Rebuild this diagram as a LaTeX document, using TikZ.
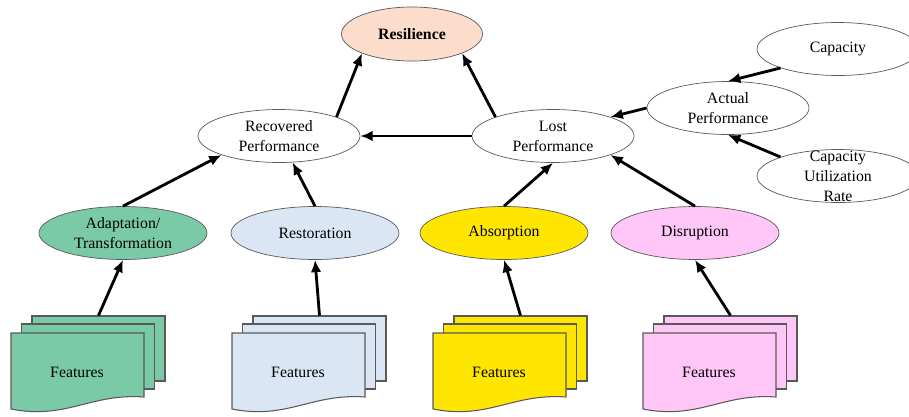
\documentclass[tikz,border=0pt]{standalone}
\usepackage{fontspec}
\setmainfont{Liberation Serif}
\usetikzlibrary{shapes.geometric,arrows.meta}

\definecolor{respeach}{RGB}{252,221,204}
\definecolor{adaptgreen}{RGB}{122,201,167}
\definecolor{restblue}{RGB}{218,230,243}
\definecolor{absyellow}{RGB}{255,230,0}
\definecolor{disrpink}{RGB}{255,199,247}

\begin{document}
\begin{tikzpicture}
    [
        x=0.02cm, y=-0.02cm,
        font=\fontsize{9}{11.4}\selectfont,
        oval/.style={ellipse, draw=black!65, inner sep=0pt, align=center, minimum width=3.24cm, minimum height=1.06cm,},
        low/.style={oval, minimum width=3.36cm,},
        sheet/.style={rectangle, draw=black!65, line width=0.6pt, inner sep=0pt, minimum width=2.66cm, minimum height=1.3cm,},
        page/.style={draw=black!65, line width=0.6pt,},
        link/.style={-{Latex[length=7pt,width=6pt]}, line width=1.6pt,},
    ]
    \useasboundingbox (0,0) rectangle (909,416);

    % top
    \node (res)  at (412,34)  [oval, fill=respeach, minimum width=2.82cm, minimum height=1.08cm] {\textbf{Resilience}};
    \node (rec)  at (279,136) [oval] {Recovered\\Performance};
    \node (lost) at (553,136) [oval] {Lost\\Performance};
    \node (act)  at (728,108) [oval] {Actual\\Performance};
    \node (cap)  at (838,49)  [oval] {Capacity};
    \node (cur)  at (838,176) [oval, label={[align=center]center:{Capacity\\Utilization\\Rate}}] {};

    % middle
    \node (adapt) at (123,233) [low, fill=adaptgreen] {Adaptation/\\Transformation};
    \node (rest)  at (315,233) [low, fill=restblue]   {Restoration};
    \node (abs)   at (504,233) [low, fill=absyellow]  {Absorption};
    \node (disr)  at (695,233) [low, fill=disrpink]   {Disruption};

    % f1
    \node (f1c) at (98.5,348.5) [sheet, fill=adaptgreen] {};
    \node (f1b) at (88,356.5)   [sheet, fill=adaptgreen] {};
    \draw [page, fill=adaptgreen] (11,333) -- (144,333) -- (144,397) .. controls (91,393) and (66,420) .. (11,409) -- cycle;
    \node (f1) at (77,372) {Features};

    % f2
    \node (f2c) at (319.5,348.5) [sheet, fill=restblue] {};
    \node (f2b) at (309,356.5)   [sheet, fill=restblue] {};
    \draw [page, fill=restblue] (232,333) -- (365,333) -- (365,397) .. controls (312,393) and (287,420) .. (232,409) -- cycle;
    \node (f2) at (298,372) {Features};

    % f3
    \node (f3c) at (520.5,348.5) [sheet, fill=absyellow] {};
    \node (f3b) at (510,356.5)   [sheet, fill=absyellow] {};
    \draw [page, fill=absyellow] (433,333) -- (566,333) -- (566,397) .. controls (513,393) and (488,420) .. (433,409) -- cycle;
    \node (f3) at (499,372) {Features};

    % f4
    \node (f4c) at (730.5,348.5) [sheet, fill=disrpink] {};
    \node (f4b) at (720,356.5)   [sheet, fill=disrpink] {};
    \draw [page, fill=disrpink] (643,333) -- (776,333) -- (776,397) .. controls (723,393) and (698,420) .. (643,409) -- cycle;
    \node (f4) at (709,372) {Features};

    \path
    (f1c.north)       edge [link] (adapt.south)
    (f2c.north)       edge [link] (rest.south)
    (f3c.north)       edge [link] (abs.south)
    (f4c.north)       edge [link] (disr.south)
    (adapt.north)     edge [link] (rec.south west)
    (rest.north)      edge [link] (rec)
    (abs.north)       edge [link] (lost.south)
    (disr.north)      edge [link] (lost.south east)
    (lost.west)       edge [link] (rec.east)
    (rec.north east)  edge [link] (res.south west)
    (lost.north west) edge [link] (res.south east)
    (act.west)        edge [link] (lost.north east)
    (cap.south west)  edge [link] (act.north)
    (cur.north west)  edge [link] (act.south);

\end{tikzpicture}
\end{document}
